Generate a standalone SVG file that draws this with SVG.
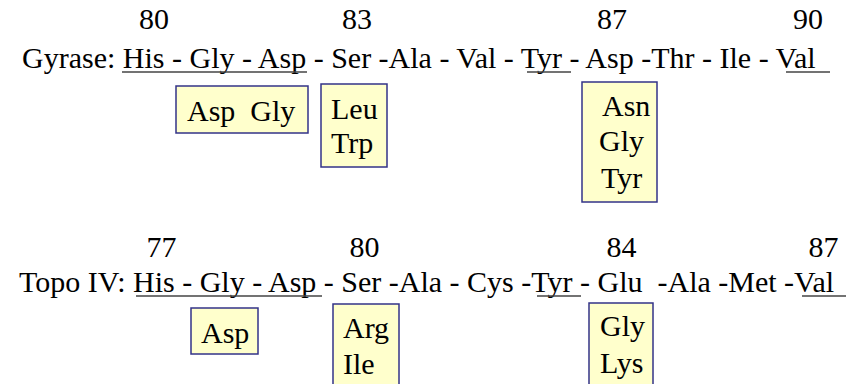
<svg xmlns="http://www.w3.org/2000/svg" width="850" height="384" viewBox="0 0 850 384">
<rect width="850" height="384" fill="#fff"/>
<g font-family="'Liberation Serif', serif" font-size="30" fill="#000">
<g id="gyrase">
<g text-anchor="middle">
<text x="154" y="29">80</text>
<text x="357" y="29">83</text>
<text x="612" y="29">87</text>
<text x="808" y="29">90</text>
</g>
<text x="22" y="68">Gyrase: His - Gly - Asp - Ser -Ala - Val - Tyr - Asp -Thr - Ile - Val</text>
<g stroke="#444" stroke-width="1.6">
<line x1="122" y1="72" x2="307" y2="72"/>
<line x1="527" y1="72" x2="571" y2="72"/>
<line x1="786" y1="72" x2="830" y2="72"/>
</g>
</g>
<g id="topo">
<g text-anchor="middle">
<text x="161.5" y="257">77</text>
<text x="364.5" y="257">80</text>
<text x="621.5" y="257">84</text>
<text x="823.5" y="257">87</text>
</g>
<text x="19" y="292" xml:space="preserve">Topo IV: His - Gly - Asp - Ser -Ala - Cys -Tyr - Glu  -Ala -Met -Val</text>
<g stroke="#444" stroke-width="1.6">
<line x1="136" y1="296" x2="322" y2="296"/>
<line x1="537" y1="296" x2="581" y2="296"/>
<line x1="802" y1="296" x2="846" y2="296"/>
</g>
</g>
<g id="g-box1">
<rect x="176" y="86" width="132" height="47" fill="#FFFFCC" stroke="#333388" stroke-width="1.5"/>
<text x="187" y="121" xml:space="preserve">Asp  Gly</text>
</g>
<g id="g-box2">
<rect x="321" y="84" width="66" height="83" fill="#FFFFCC" stroke="#333388" stroke-width="1.5"/>
<text x="331" y="119">Leu</text>
<text x="331" y="153">Trp</text>
</g>
<g id="g-box3">
<rect x="582" y="82" width="75" height="120" fill="#FFFFCC" stroke="#333388" stroke-width="1.5"/>
<text x="602" y="116">Asn</text>
<text x="599" y="151">Gly</text>
<text x="601" y="188">Tyr</text>
</g>
<g id="t-box1">
<rect x="191" y="308" width="67" height="46" fill="#FFFFCC" stroke="#333388" stroke-width="1.5"/>
<text x="201" y="343">Asp</text>
</g>
<g id="t-box2">
<rect x="333" y="304" width="66" height="90" fill="#FFFFCC" stroke="#333388" stroke-width="1.5"/>
<text x="343" y="338">Arg</text>
<text x="343" y="374">Ile</text>
</g>
<g id="t-box3">
<rect x="589" y="303" width="64" height="91" fill="#FFFFCC" stroke="#333388" stroke-width="1.5"/>
<text x="600" y="336">Gly</text>
<text x="600" y="373">Lys</text>
</g>
</g>
<g id="connectors"/>
</svg>
